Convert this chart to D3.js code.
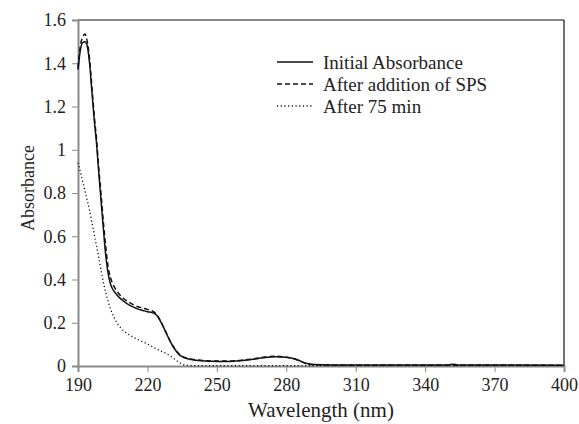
<!DOCTYPE html>
<html>
<head>
<meta charset="utf-8">
<script src="https://cdn.jsdelivr.net/npm/d3@7"></script>
<style>
  body { margin: 0; background: #fff; }
</style>
</head>
<body>
<svg id="chart" width="579" height="424"></svg>
<script>
// Initial Absorbance
const initialNm = [190, 191, 192, 193, 194, 195, 196, 197, 198, 199, 200, 201, 202, 203, 204, 205, 206, 208, 210, 212, 214, 216, 218, 220, 222, 224, 226, 228, 230, 232, 234, 236, 238, 240, 245, 250, 255, 260, 265, 270, 275, 280, 285, 288, 292, 300, 350, 352, 354, 400];
const initialAbs = [1.37, 1.46, 1.495, 1.50, 1.48, 1.40, 1.27, 1.14, 1.03, 0.89, 0.76, 0.63, 0.51, 0.43, 0.38, 0.355, 0.34, 0.315, 0.298, 0.283, 0.272, 0.263, 0.257, 0.251, 0.247, 0.235, 0.20, 0.155, 0.11, 0.075, 0.05, 0.038, 0.032, 0.028, 0.023, 0.021, 0.021, 0.024, 0.030, 0.038, 0.043, 0.040, 0.028, 0.014, 0.007, 0.005, 0.005, 0.008, 0.005, 0.004];

// After addition of SPS
const spsNm = [190, 191, 192, 193, 194, 195, 196, 197, 198, 199, 200, 201, 202, 203, 204, 205, 206, 208, 210, 212, 214, 216, 218, 220, 222, 224, 226, 228, 230, 232, 234, 236, 238, 240, 245, 250, 255, 260, 265, 270, 275, 280, 285, 288, 292, 300, 400];
const spsAbs = [1.38, 1.48, 1.52, 1.535, 1.50, 1.42, 1.29, 1.16, 1.05, 0.91, 0.79, 0.66, 0.55, 0.46, 0.41, 0.38, 0.36, 0.33, 0.31, 0.295, 0.283, 0.274, 0.268, 0.262, 0.255, 0.238, 0.20, 0.157, 0.112, 0.077, 0.052, 0.04, 0.034, 0.03, 0.025, 0.023, 0.023, 0.026, 0.032, 0.04, 0.045, 0.041, 0.028, 0.014, 0.006, 0.004, 0.003];

// After 75 min
const lateNm = [190, 191, 192, 193, 194, 195, 196, 197, 198, 199, 200, 201, 202, 203, 204, 205, 206, 207, 208, 210, 212, 214, 216, 218, 220, 222, 224, 226, 228, 230, 232, 234, 236, 240, 400];
const lateAbs = [0.94, 0.90, 0.855, 0.81, 0.765, 0.72, 0.665, 0.61, 0.555, 0.50, 0.44, 0.385, 0.34, 0.30, 0.265, 0.237, 0.215, 0.196, 0.182, 0.16, 0.145, 0.133, 0.122, 0.112, 0.102, 0.09, 0.078, 0.068, 0.058, 0.045, 0.03, 0.015, 0.005, 0.002, 0.002];

const seriesNames = ["Initial Absorbance", "After addition of SPS", "After 75 min"];
const xTicks = [190, 220, 250, 280, 310, 340, 370, 400];
const yTicks = [0, 0.2, 0.4, 0.6, 0.8, 1.0, 1.2, 1.4, 1.6];

const serifFont = '"Liberation Serif", "DejaVu Serif", "Times New Roman", Times, serif';

const svg = d3.select('#chart');
const plotLeft = 78, plotRight = 564, plotTop = 20, plotBottom = 366;

const x = d3.scaleLinear().domain([190, 400]).range([plotLeft, plotRight]);
const y = d3.scaleLinear().domain([0, 1.6]).range([plotBottom, plotTop]);

// frame: top and right black
svg.append("line").attr("x1", plotLeft).attr("x2", plotRight).attr("y1", plotTop).attr("y2", plotTop)
    .style("stroke", "#111").style("stroke-width", 1.2);
svg.append("line").attr("x1", plotRight).attr("x2", plotRight).attr("y1", plotTop).attr("y2", plotBottom)
    .style("stroke", "#111").style("stroke-width", 1.2);

// Axes
const xAxis = svg.append("g")
    .attr("transform", `translate(0,${plotBottom})`)
    .call(d3.axisBottom(x).tickValues(xTicks).tickSize(6).tickPadding(6).tickFormat(d3.format("d")));
const yAxis = svg.append("g")
    .attr("transform", `translate(${plotLeft},0)`)
    .call(d3.axisLeft(y).tickValues(yTicks).tickSize(6).tickPadding(6).tickFormat(d => d === 0 ? "0" : d === 1 ? "1" : d3.format(".1f")(d)));

[xAxis, yAxis].forEach(g => {
    g.attr("font-family", serifFont).attr("font-size", 18);
    g.select(".domain").style("stroke", "#8a8a8a").style("stroke-width", 2);
    g.selectAll(".tick line").style("stroke", "#8a8a8a").style("stroke-width", 1);
    g.selectAll(".tick text")
        .attr("font-family", serifFont)
        .attr("font-size", 18)
        .attr("fill", "#222");
});

// Axis titles
svg.append("text")
    .attr("x", (plotLeft + plotRight) / 2)
    .attr("y", 417)
    .attr("text-anchor", "middle")
    .attr("font-family", serifFont)
    .attr("font-size", 21)
    .attr("fill", "#222")
    .text("Wavelength (nm)");

svg.append("text")
    .attr("transform", "translate(34,188) rotate(-90)")
    .attr("text-anchor", "middle")
    .attr("font-family", serifFont)
    .attr("font-size", 18)
    .attr("fill", "#222")
    .text("Absorbance");

// Lines
const line = d3.line()
    .x(d => x(d[0]))
    .y(d => y(d[1]))
    .curve(d3.curveMonotoneX);

const series = [
    { name: seriesNames[0], nm: initialNm, abs: initialAbs, dash: null, width: 1.5 },
    { name: seriesNames[1], nm: spsNm, abs: spsAbs, dash: "5,3", width: 1.5 },
    { name: seriesNames[2], nm: lateNm, abs: lateAbs, dash: "1.2,2.5", width: 1.3 },
];

const plot = svg.append("g");
// draw SPS and 75 min first, initial on top
[series[2], series[1], series[0]].forEach(s => {
    plot.append("path")
        .datum(s.nm.map((w, i) => [w, s.abs[i]]))
        .attr("d", line)
        .style("fill", "none")
        .style("stroke", "#111")
        .style("stroke-width", s.width)
        .style("stroke-dasharray", s.dash);
});

// Legend
const legend = svg.append("g");
series.forEach((s, i) => {
    const ly = 62 + i * 22;
    legend.append("line")
        .attr("x1", 277).attr("x2", 313)
        .attr("y1", ly).attr("y2", ly)
        .style("stroke", "#111")
        .style("stroke-width", s.width)
        .style("stroke-dasharray", s.dash);
    legend.append("text")
        .attr("x", 323)
        .attr("y", ly)
        .attr("dy", "0.35em")
        .attr("font-family", serifFont)
        .attr("font-size", 19)
        .attr("fill", "#222")
        .text(s.name);
});
</script>
</body>
</html>
